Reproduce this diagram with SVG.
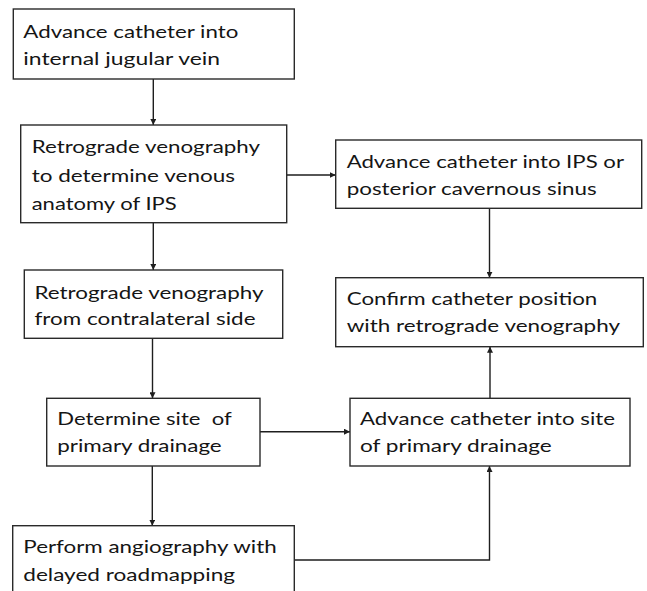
<svg xmlns="http://www.w3.org/2000/svg" width="647" height="591" viewBox="0 0 647 591">
  <style>
    .box { fill: #ffffff; stroke: #2a2a2a; stroke-width: 1.4; }
    .lbl { font-family: Lato, "Open Sans", "Liberation Sans", sans-serif; font-size: 18px; fill: #151515; white-space: pre; }
    .conn { fill: none; stroke: #1e1e1e; stroke-width: 1.4; }
  </style>
  <defs>
    <marker id="arr" markerWidth="6" markerHeight="6" refX="6" refY="3" orient="auto" markerUnits="userSpaceOnUse">
      <path d="M0,0 L6,3 L0,6 z" fill="#1e1e1e"/>
    </marker>
  </defs>
  <rect x="0" y="0" width="647" height="591" fill="#ffffff"/>

  <g id="connectors">
    <line class="conn" x1="153.3" y1="79" x2="153.3" y2="125" marker-end="url(#arr)"/>
    <line class="conn" x1="286.7" y1="175" x2="335.7" y2="175" marker-end="url(#arr)"/>
    <line class="conn" x1="153.3" y1="222.7" x2="153.3" y2="270" marker-end="url(#arr)"/>
    <line class="conn" x1="152.5" y1="338.3" x2="152.5" y2="398.3" marker-end="url(#arr)"/>
    <line class="conn" x1="152.3" y1="466" x2="152.3" y2="525.7" marker-end="url(#arr)"/>
    <line class="conn" x1="260" y1="431.7" x2="350" y2="431.7" marker-end="url(#arr)"/>
    <line class="conn" x1="489.5" y1="208.3" x2="489.5" y2="277.7" marker-end="url(#arr)"/>
    <line class="conn" x1="490" y1="398.3" x2="490" y2="346.7" marker-end="url(#arr)"/>
    <polyline class="conn" points="294.3,560 489.5,560 489.5,466" marker-end="url(#arr)"/>
  </g>

  <g id="n1">
    <rect class="box" x="13.3" y="9" width="281" height="70"/>
    <text class="lbl" x="23.3" y="37.7" textLength="215" lengthAdjust="spacingAndGlyphs">Advance catheter into</text>
    <text class="lbl" x="23.3" y="65" textLength="196.7" lengthAdjust="spacingAndGlyphs">internal jugular vein</text>
  </g>
  <g id="n2">
    <rect class="box" x="20.7" y="125" width="266" height="97.7"/>
    <text class="lbl" x="31.7" y="153" textLength="228.3" lengthAdjust="spacingAndGlyphs">Retrograde venography</text>
    <text class="lbl" x="31.7" y="181.5" textLength="203.3" lengthAdjust="spacingAndGlyphs">to determine venous</text>
    <text class="lbl" x="31.7" y="210" textLength="145" lengthAdjust="spacingAndGlyphs">anatomy of IPS</text>
  </g>
  <g id="n3">
    <rect class="box" x="24.3" y="270" width="258.4" height="68.3"/>
    <text class="lbl" x="34.5" y="299.3" textLength="229" lengthAdjust="spacingAndGlyphs">Retrograde venography</text>
    <text class="lbl" x="34.5" y="325" textLength="221" lengthAdjust="spacingAndGlyphs">from contralateral side</text>
  </g>
  <g id="n4">
    <rect class="box" x="46.7" y="398.3" width="213.3" height="67.7"/>
    <text class="lbl" x="57.3" y="425" textLength="174.4" lengthAdjust="spacingAndGlyphs">Determine site  of</text>
    <text class="lbl" x="57.3" y="451.7" textLength="164.4" lengthAdjust="spacingAndGlyphs">primary drainage</text>
  </g>
  <g id="n5">
    <rect class="box" x="12.7" y="525.7" width="281.6" height="80"/>
    <text class="lbl" x="23.3" y="553.3" textLength="253.4" lengthAdjust="spacingAndGlyphs">Perform angiography with</text>
    <text class="lbl" x="23.3" y="581" textLength="211.7" lengthAdjust="spacingAndGlyphs">delayed roadmapping</text>
  </g>
  <g id="n6">
    <rect class="box" x="335.7" y="140" width="306" height="68.3"/>
    <text class="lbl" x="346.7" y="167.7" textLength="277.3" lengthAdjust="spacingAndGlyphs">Advance catheter into IPS or</text>
    <text class="lbl" x="346.7" y="195" textLength="250" lengthAdjust="spacingAndGlyphs">posterior cavernous sinus</text>
  </g>
  <g id="n7">
    <rect class="box" x="335.7" y="277.7" width="307.6" height="69"/>
    <text class="lbl" x="346.7" y="305" textLength="250.6" lengthAdjust="spacingAndGlyphs">Confirm catheter position</text>
    <text class="lbl" x="346.7" y="331.7" textLength="273.3" lengthAdjust="spacingAndGlyphs">with retrograde venography</text>
  </g>
  <g id="n8">
    <rect class="box" x="350" y="398.3" width="280" height="67.7"/>
    <text class="lbl" x="360" y="425" textLength="255" lengthAdjust="spacingAndGlyphs">Advance catheter into site</text>
    <text class="lbl" x="360" y="451.7" textLength="191.7" lengthAdjust="spacingAndGlyphs">of primary drainage</text>
  </g>
</svg>
